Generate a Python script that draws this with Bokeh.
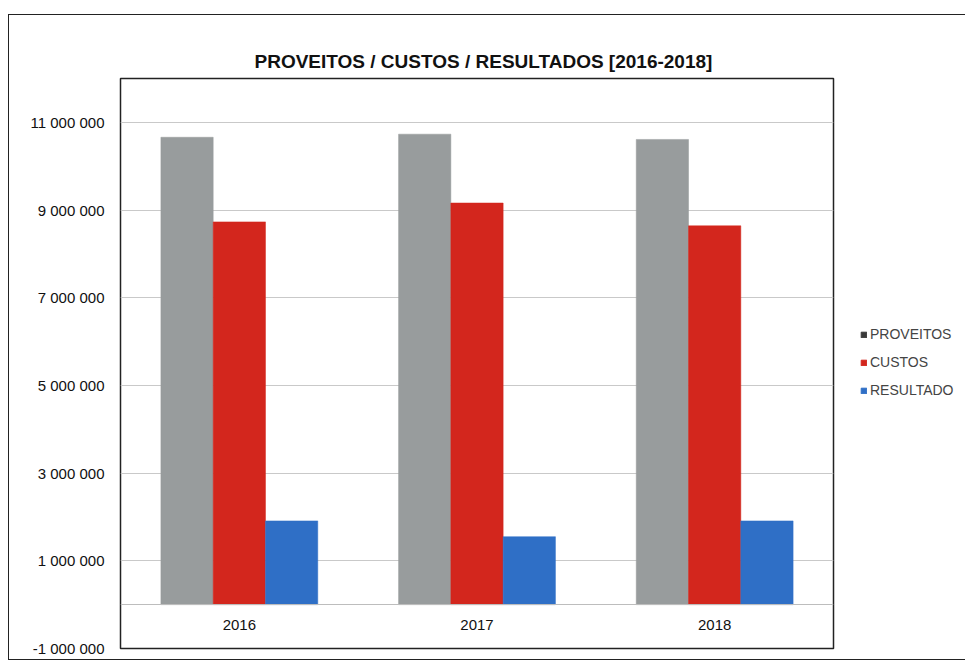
from bokeh.plotting import figure
from bokeh.layouts import row
from bokeh.models import (FactorRange, FixedTicker, Legend, LegendItem, ColumnDataSource,
                          InlineStyleSheet)
from bokeh.transform import dodge
from bokeh.embed import file_html
from bokeh.resources import INLINE

years = ["2016", "2017", "2018"]
proveitos = [10660000, 10730000, 10610000]
custos = [8730000, 9160000, 8640000]
resultado = [1910000, 1550000, 1910000]
series_names = ["PROVEITOS", "CUSTOS", "RESULTADO"]
y_ticks = [-1000000, 1000000, 3000000, 5000000, 7000000, 9000000, 11000000]
grid_ticks = [1000000, 3000000, 5000000, 7000000, 9000000, 11000000]
title_text = "PROVEITOS / CUSTOS / RESULTADOS  [2016-2018]"

colors = ["#989c9d", "#d3261d", "#2f6fc6"]
legend_colors = ["#3a3a3a", "#d3261d", "#2f6fc6"]

src = ColumnDataSource(dict(years=years, proveitos=proveitos, custos=custos, resultado=resultado))

border_css = InlineStyleSheet(css="""
:host { position: relative; }
:host::after {
  content: ""; position: absolute; left: 8px; top: 14px; width: 957px; height: 646px;
  border-left: 1.5px solid #222; border-top: 1.5px solid #222; border-bottom: 1.5px solid #222;
  box-sizing: border-box; pointer-events: none;
}
""")

p = figure(x_range=FactorRange(*years), y_range=(-1000000, 12000000),
           width=835, height=665,
           min_border_left=120, min_border_top=78, min_border_bottom=17, min_border_right=2,
           output_backend="svg", toolbar_location=None, background_fill_color="white",
           border_fill_color="white", title=title_text)

p.title.align = "left"
p.title.text_font = "Liberation Sans"
p.title.text_font_size = "19px"
p.title.text_font_style = "bold"
p.title.text_color = "#111111"
p.title.offset = 134
p.title.standoff = 13

bw = 0.22
for i, (col, c) in enumerate(zip(["proveitos", "custos", "resultado"], colors)):
    p.vbar(x=dodge("years", (i - 1) * bw, range=p.x_range), top=col, bottom=0, width=bw,
           source=src, fill_color=c, line_color=c, line_width=0.5)

p.yaxis.ticker = FixedTicker(ticks=y_ticks)
p.yaxis.major_label_overrides = {t: f"{t:,}".replace(",", " ") for t in y_ticks}
p.yaxis.axis_line_color = None
p.yaxis.major_tick_line_color = None
p.yaxis.minor_tick_line_color = None
p.yaxis.major_label_standoff = 10
p.yaxis.major_label_text_font = "Liberation Sans"
p.yaxis.major_label_text_font_size = "15px"
p.yaxis.major_label_text_color = "#111111"

p.xaxis.fixed_location = 0
p.xaxis.axis_line_color = "#bdbdbd"
p.xaxis.major_tick_line_color = None
p.xaxis.minor_tick_line_color = None
p.xaxis.major_label_standoff = 9
p.xaxis.major_label_text_font = "Liberation Sans"
p.xaxis.major_label_text_font_size = "15px"
p.xaxis.major_label_text_color = "#111111"

p.xgrid.grid_line_color = None
p.ygrid.ticker = FixedTicker(ticks=grid_ticks)
p.ygrid.grid_line_color = "#c9c9c9"
p.ygrid.grid_line_width = 1

p.outline_line_color = "#222222"
p.outline_line_width = 1.5

# legend panel as a separate small figure to the right
pl = figure(width=130, height=665, x_range=(0, 1), y_range=(0, 1), min_border=0,
            output_backend="svg", toolbar_location=None, outline_line_color=None,
            background_fill_color="white", border_fill_color="white")
pl.axis.visible = False
pl.grid.visible = False
proxies = []
for c in legend_colors:
    proxies.append(pl.rect(x=[-5], y=[-5], width=1, height=1, fill_color=c, line_color=c))
legend = Legend(items=[LegendItem(label=n, renderers=[r]) for n, r in zip(series_names, proxies)],
                location=(25, 250), glyph_width=7, glyph_height=7, label_standoff=3,
                label_text_font="Liberation Sans", label_text_font_size="14px",
                label_height=15, spacing=12, border_line_color=None, background_fill_alpha=0,
                margin=0, padding=0)
pl.add_layout(legend, "center")

layout = row(p, pl, spacing=0, stylesheets=[border_css])

open("out.html", "w").write(file_html(layout, INLINE))
